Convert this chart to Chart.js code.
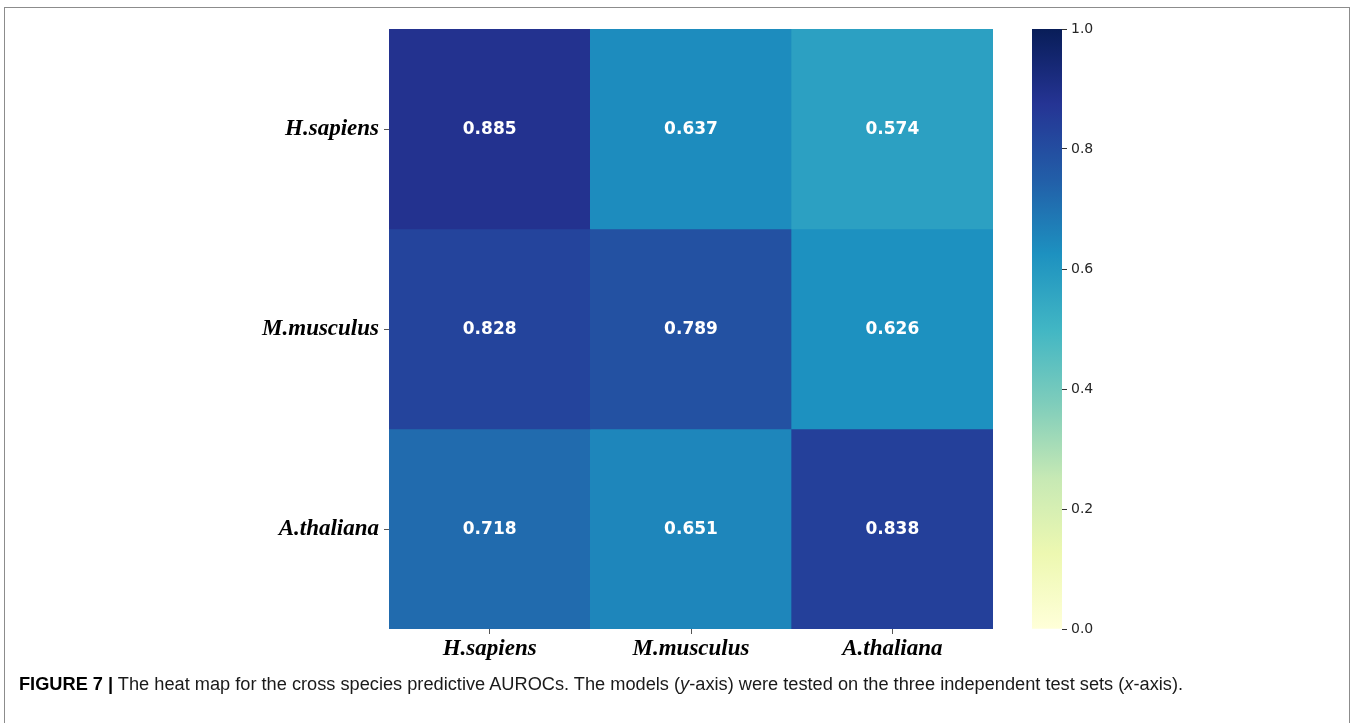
<!DOCTYPE html>
<html>
<head>
<meta charset="utf-8">
<title>Cross species AUROC heat map</title>
<script src="https://cdn.jsdelivr.net/npm/chart.js@4.4.1/dist/chart.umd.min.js"></script>
<style>
  html, body { margin: 0; padding: 0; background: #ffffff; }
  #page { position: relative; width: 1352px; height: 723px; overflow: hidden; }
  #frame {
    position: absolute; left: 4px; top: 7px; width: 1346px; height: 740px;
    border: 1.5px solid #8c8c8c; box-sizing: border-box;
  }
  canvas { position: absolute; left: 0; top: 0; }
  #caption {
    position: absolute; left: 19px; top: 674px; white-space: nowrap;
    font-family: "Liberation Sans", Arial, sans-serif; font-size: 18px; line-height: 20px;
    color: #1a1a1a; transform-origin: left center;
  }
  #caption b { font-weight: bold; color: #000; }
</style>
</head>
<body>
<div id="page">
  <div id="frame"></div>
  <canvas id="heat" width="1352" height="723"></canvas>
  <canvas id="cbar" width="1352" height="723"></canvas>
  <div id="caption"><b>FIGURE 7 |</b> The heat map for the cross species predictive AUROCs. The models (<i>y</i>-axis) were tested on the three independent test sets (<i>x</i>-axis).</div>
</div>
<script>
// Trained models (rows) and the test sets they were evaluated on (columns)
const models = ['H.sapiens', 'M.musculus', 'A.thaliana'];
const testSets = ['H.sapiens', 'M.musculus', 'A.thaliana'];

// AUROC per model row, in test-set order
const hsapiensRow = [0.885, 0.637, 0.574];
const mmusculusRow = [0.828, 0.789, 0.626];
const athalianaRow = [0.718, 0.651, 0.838];
const aurocRows = [hsapiensRow, mmusculusRow, athalianaRow];

// Colour bar tick values
const colorbarTicks = [0.0, 0.2, 0.4, 0.6, 0.8, 1.0];

// YlGnBu colour map anchors (low -> high)
const ylGnBu = ['#ffffd9', '#edf8b1', '#c7e9b4', '#7fcdbb', '#41b6c4', '#1d91c0', '#225ea8', '#253494', '#081d58'];

function hexToRgb(h) {
  return [parseInt(h.slice(1, 3), 16), parseInt(h.slice(3, 5), 16), parseInt(h.slice(5, 7), 16)];
}
function colorFor(v) {
  const t = Math.min(Math.max(v, 0), 1) * (ylGnBu.length - 1);
  const i = Math.min(Math.floor(t), ylGnBu.length - 2);
  const f = t - i;
  const a = hexToRgb(ylGnBu[i]);
  const b = hexToRgb(ylGnBu[i + 1]);
  const c = a.map((x, k) => Math.round(x + (b[k] - x) * f));
  return `rgb(${c[0]},${c[1]},${c[2]})`;
}

const labelFont = { family: '"Liberation Serif", "Times New Roman", serif', size: 23, style: 'italic', weight: 'bold' };

// Writes each cell's AUROC in its centre
const cellValues = {
  id: 'cellValues',
  afterDatasetsDraw(chart) {
    const ctx = chart.ctx;
    ctx.save();
    ctx.font = 'bold 17px "DejaVu Sans", sans-serif';
    ctx.fillStyle = '#ffffff';
    ctx.textAlign = 'center';
    ctx.textBaseline = 'middle';
    chart.data.datasets.forEach((ds, r) => {
      const meta = chart.getDatasetMeta(r);
      meta.data.forEach((el, c) => {
        const cy = (el.y + el.base) / 2;
        ctx.fillText(aurocRows[r][c].toFixed(3), el.x, cy + 1);
      });
    });
    ctx.restore();
  }
};

// One floating-bar dataset per model row, spanning [row, row + 1]
const heatDatasets = aurocRows.map((row, r) => ({
  label: models[r],
  data: row.map(() => [r, r + 1]),
  backgroundColor: row.map(colorFor),
  borderWidth: 0,
  barPercentage: 1,
  categoryPercentage: 1
}));

new Chart(document.getElementById('heat'), {
  type: 'bar',
  data: { labels: testSets, datasets: heatDatasets },
  options: {
    responsive: false,
    animation: false,
    grouped: false,
    layout: { padding: { left: 0, top: 29, right: 359, bottom: 0 } },
    plugins: { legend: { display: false }, tooltip: { enabled: false } },
    scales: {
      x: {
        type: 'category',
        offset: true,
        grid: { offset: false, drawOnChartArea: false, drawTicks: true, tickLength: 5, color: '#555555' },
        border: { display: false },
        ticks: { font: labelFont, color: '#000000', padding: 1, maxRotation: 0 },
        afterFit(scale) { scale.height = 94; }
      },
      y: {
        type: 'linear',
        min: 0,
        max: models.length,
        reverse: true,
        grid: { drawOnChartArea: false, drawTicks: true, tickLength: 5, color: '#555555' },
        border: { display: false },
        afterBuildTicks(scale) { scale.ticks = models.map((_, i) => ({ value: i + 0.5 })); },
        ticks: {
          font: labelFont,
          color: '#000000',
          padding: 5,
          callback: (v) => models[Math.floor(v)]
        },
        afterFit(scale) { scale.width = 389; }
      }
    }
  },
  plugins: [cellValues]
});

// Colour bar: a single floating bar from 0 to 1 filled with the colour map
new Chart(document.getElementById('cbar'), {
  type: 'bar',
  data: {
    labels: [''],
    datasets: [{
      data: [[colorbarTicks[0], colorbarTicks[colorbarTicks.length - 1]]],
      borderWidth: 0,
      barPercentage: 1,
      categoryPercentage: 1,
      backgroundColor(context) {
        const chart = context.chart;
        if (!chart.chartArea) return ylGnBu[4];
        const ys = chart.scales.y;
        const g = chart.ctx.createLinearGradient(0, ys.getPixelForValue(0), 0, ys.getPixelForValue(1));
        ylGnBu.forEach((c, i) => g.addColorStop(i / (ylGnBu.length - 1), c));
        return g;
      }
    }]
  },
  options: {
    responsive: false,
    animation: false,
    layout: { padding: { left: 1032, top: 29, right: 0, bottom: 94 } },
    plugins: { legend: { display: false }, tooltip: { enabled: false } },
    scales: {
      x: { display: false },
      y: {
        position: 'right',
        min: 0,
        max: 1,
        grid: { drawOnChartArea: false, drawTicks: true, tickLength: 5, color: '#333333' },
        border: { display: false },
        afterBuildTicks(scale) { scale.ticks = colorbarTicks.map(v => ({ value: v })); },
        ticks: {
          font: { family: '"DejaVu Sans", sans-serif', size: 14 },
          color: '#262626',
          padding: 4,
          callback: (v) => Number(v).toFixed(1)
        },
        afterFit(scale) { scale.width = 290; }
      }
    }
  }
});

// Fit the caption line to its column width
const cap = document.getElementById('caption');
const capWidth = cap.getBoundingClientRect().width;
cap.style.transform = `scaleX(${1164 / capWidth})`;
</script>
</body>
</html>
